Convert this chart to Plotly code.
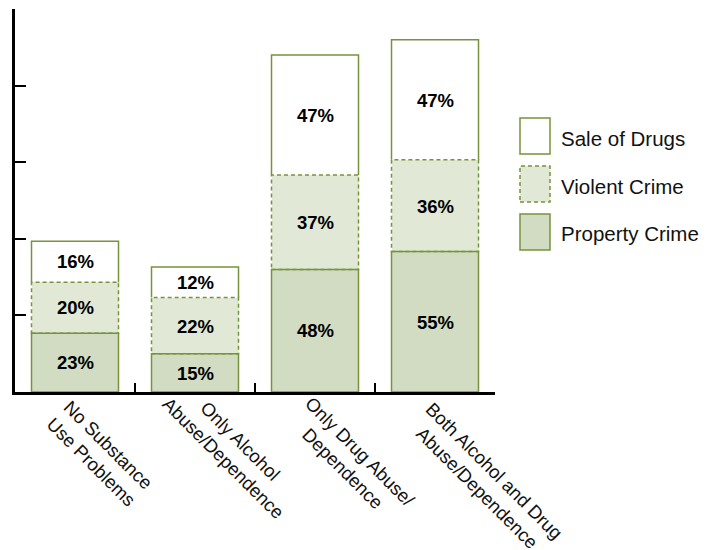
import plotly.graph_objects as go

# Offense type shares (%) by substance use group
categories = [
    "No Substance<br>Use Problems",
    "Only Alcohol<br>Abuse/Dependence",
    "Only Drug Abuse/<br>Dependence",
    "Both Alcohol and Drug<br>Abuse/Dependence",
]
property_crime = [23, 15, 48, 55]
violent_crime = [20, 22, 37, 36]
sale_of_drugs = [16, 12, 47, 47]
y_ticks = [0, 30, 60, 90, 120, 150]

FONT = "Liberation Sans, Arial, sans-serif"
EDGE = "#77933c"
FILL_PROPERTY = "#d1dcc2"
FILL_VIOLENT = "#e1e8d6"
FILL_SALE = "#ffffff"
DASH = "4px,3px"
BAR_W = 0.725

W, H = 706, 550
M_L, M_R, M_T, M_B = 15, 211, 9, 158
PLOT_W = W - M_L - M_R
PLOT_H = H - M_T - M_B

# pixel offsets of each rotated category label's centre from its tick point
LABEL_SHIFT = [(25, 61), (37, 57), (37, 68), (51, 87)]


def px_x(px):
    return (px - M_L) / PLOT_W


def px_y(py):
    return (H - M_B - py) / PLOT_H


series = [
    ("Property Crime", property_crime, FILL_PROPERTY),
    ("Violent Crime", violent_crime, FILL_VIOLENT),
    ("Sale of Drugs", sale_of_drugs, FILL_SALE),
]

x_pos = list(range(len(categories)))

fig = go.Figure()
for name, vals, fill in series:
    fig.add_trace(go.Bar(
        x=x_pos, y=vals, name=name, width=BAR_W,
        marker=dict(color=fill, line=dict(width=0)),
        text=[f"{v}%" for v in vals],
        textposition="inside", insidetextanchor="middle",
        textangle=0, constraintext="none",
        textfont=dict(family=FONT, size=18.5, color="black", weight="bold"),
        hoverinfo="skip", showlegend=False,
    ))

# Segment outlines: sale (open at the bottom), violent (dashed), property (solid)
shapes = []
for i in x_pos:
    x0, x1 = i - BAR_W / 2, i + BAR_W / 2
    b1 = property_crime[i]
    b2 = b1 + violent_crime[i]
    b3 = b2 + sale_of_drugs[i]
    shapes.append(dict(
        type="path", xref="x", yref="y",
        path=f"M {x0},{b2} L {x0},{b3} L {x1},{b3} L {x1},{b2}",
        line=dict(color=EDGE, width=1.5), layer="above"))
    shapes.append(dict(
        type="rect", xref="x", yref="y", x0=x0, x1=x1, y0=b1, y1=b2,
        line=dict(color=EDGE, width=1.5, dash=DASH), layer="above"))
    shapes.append(dict(
        type="rect", xref="x", yref="y", x0=x0, x1=x1, y0=0, y1=b1,
        line=dict(color=EDGE, width=1.5), layer="above"))

# Legend boxes and labels
annotations = []
legend_items = [
    ("Sale of Drugs", FILL_SALE, "solid", 118),
    ("Violent Crime", FILL_VIOLENT, DASH, 166),
    ("Property Crime", FILL_PROPERTY, "solid", 214),
]
for label, fill, dash, top in legend_items:
    shapes.append(dict(
        type="rect", xref="paper", yref="paper",
        x0=px_x(520), x1=px_x(550), y0=px_y(top + 36), y1=px_y(top),
        fillcolor=fill, line=dict(color=EDGE, width=1.5, dash=dash)))
    annotations.append(dict(
        text=label, xref="paper", yref="paper",
        x=px_x(559), y=px_y(top + 20), xanchor="left", yanchor="middle",
        showarrow=False, font=dict(family=FONT, size=20.5, color="#111111")))

# Rotated category labels under the axis
for i, label, (dx, dy) in zip(x_pos, categories, LABEL_SHIFT):
    annotations.append(dict(
        text=label, x=i, y=0, xref="x", yref="y",
        xanchor="center", yanchor="middle", xshift=dx, yshift=-dy,
        textangle=45, align="center", showarrow=False,
        font=dict(family=FONT, size=18.5, color="#111111")))

fig.update_layout(
    width=W, height=H,
    margin=dict(l=M_L, r=M_R, t=M_T, b=M_B, pad=0),
    paper_bgcolor="white", plot_bgcolor="white",
    barmode="stack", bargap=0,
    shapes=shapes, annotations=annotations,
    xaxis=dict(
        range=[-0.5, 3.5], showline=True, linecolor="black", linewidth=2.5,
        tickvals=[0.5, 1.5, 2.5, 3.5], ticks="inside", ticklen=9,
        tickwidth=2, tickcolor="black", showticklabels=False,
        showgrid=False, zeroline=False, fixedrange=True),
    yaxis=dict(
        range=[0, 150], showline=True, linecolor="black", linewidth=2.5,
        tickvals=y_ticks, ticks="inside", ticklen=11,
        tickwidth=2, tickcolor="black", showticklabels=False,
        showgrid=False, zeroline=False, fixedrange=True),
    hovermode=False,
)

fig.write_html("out.html")
